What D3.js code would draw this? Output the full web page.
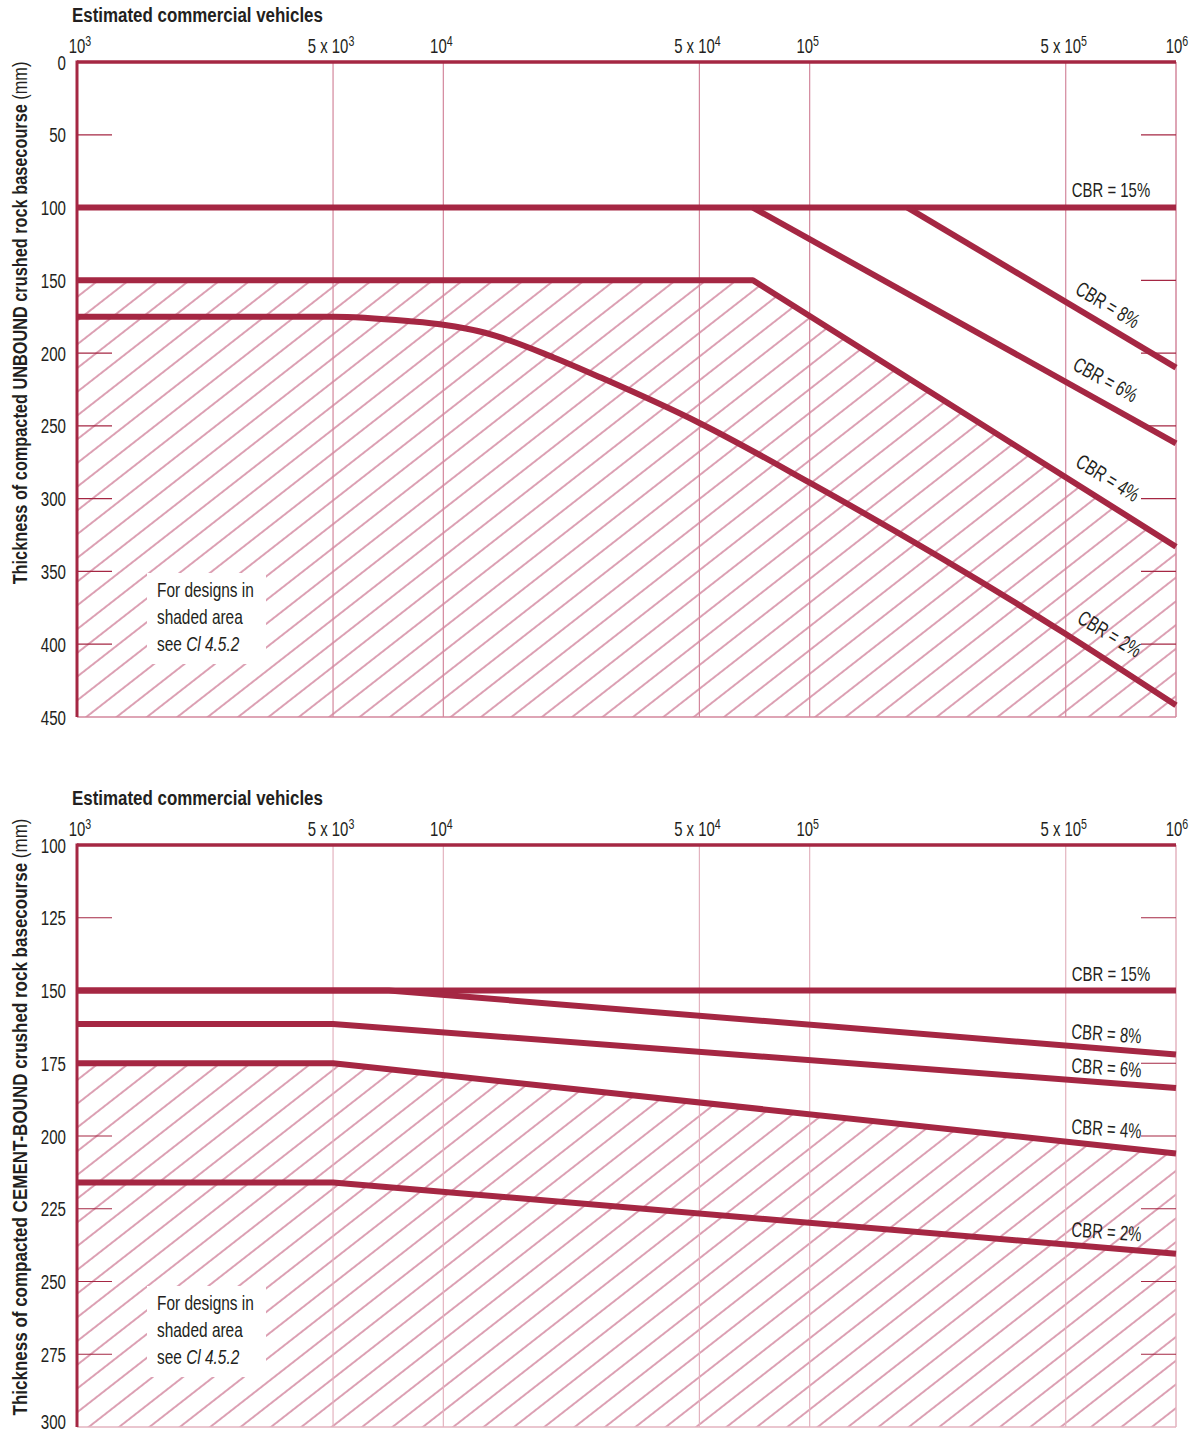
<!DOCTYPE html>
<html>
<head>
<meta charset="utf-8">
<script src="https://cdn.jsdelivr.net/npm/d3@7"></script>
<style>
  html, body { margin: 0; padding: 0; background: #fff; }
  svg text { font-family: "Liberation Sans", Arial, "Roboto", sans-serif; fill: #231f20; }
</style>
</head>
<body>
<svg id="chart" width="1200" height="1434"></svg>
<script>
// ---------- data ----------
const xTicks = [1e3, 5e3, 1e4, 5e4, 1e5, 5e5, 1e6];
const xTickLabels = [["10","3"],["5 x 10","3"],["10","4"],["5 x 10","4"],["10","5"],["5 x 10","5"],["10","6"]];
const xTitle = "Estimated commercial vehicles";

const unboundYTicks = [0, 50, 100, 150, 200, 250, 300, 350, 400, 450];
const unboundCBR15 = [[1e3, 100], [1e6, 100]];
const unboundCBR8  = [[1.85e5, 100], [1e6, 210]];
const unboundCBR6  = [[7e4, 100], [1e6, 262]];
const unboundCBR4  = [[1e3, 150], [7e4, 150], [1e6, 333]];
const unboundCBR2  = [[1e3, 175], [5e3, 175], [8e3, 178], [1e4, 180.5], [1.3e4, 186], [2e4, 203], [2.7e4, 217], [5e4, 248], [1e5, 289], [5e5, 393], [1e6, 442]];

const cementYTicks = [100, 125, 150, 175, 200, 225, 250, 275, 300];
const cementCBR15 = [[1e3, 150], [1e6, 150]];
const cementCBR8  = [[1e3, 150], [7.1e3, 150], [1e6, 172]];
const cementCBR6  = [[1e3, 161.5], [5e3, 161.5], [1e6, 183.5]];
const cementCBR4  = [[1e3, 175], [5e3, 175], [1e6, 206]];
const cementCBR2  = [[1e3, 216], [5e3, 216], [1e6, 240.5]];

const noteLines = ["For designs in", "shaded area", "see "];
const noteRef = "Cl 4.5.2";

// ---------- style ----------
const LINE = "#a52743";
const GRID = "#d3879c";
const HATCH = "#c05476";
const SX = 0.71;      // condensed look
const FS = 21;

const svg = d3.select("#chart");
const defs = svg.append("defs");
const pat = defs.append("pattern")
  .attr("id", "hatch").attr("patternUnits", "userSpaceOnUse")
  .attr("width", 18.7).attr("height", 20)
  .attr("patternTransform", "rotate(52)");
pat.append("line").attr("x1", 1).attr("y1", 0).attr("x2", 1).attr("y2", 20)
  .attr("stroke", HATCH).attr("stroke-width", 1.1);

const x = d3.scaleLog().domain([1e3, 1e6]).range([77, 1176]);

function label(parent, px, py, rot, sx) {
  return parent.append("text")
    .attr("transform", `translate(${px},${py}) rotate(${rot || 0}) scale(${sx || SX},1)`)
    .attr("font-size", FS);
}
function fitWidth(sel, px, py, rot, target) {
  const w = sel.node().getComputedTextLength();
  sel.attr("transform", `translate(${px},${py}) rotate(${rot}) scale(${target / w},1)`);
}

function panel(cfg) {
  const y = d3.scaleLinear().domain(cfg.domain).range([cfg.top, cfg.bottom]);
  const g = svg.append("g");
  const clipId = "clip" + cfg.id;
  defs.append("clipPath").attr("id", clipId).append("rect")
    .attr("x", x.range()[0]).attr("y", cfg.top)
    .attr("width", x.range()[1] - x.range()[0]).attr("height", cfg.bottom - cfg.top);

  const line = d3.line().x(d => x(d[0])).y(d => y(d[1]));
  const curve = d3.line().x(d => x(d[0])).y(d => y(d[1])).curve(d3.curveMonotoneX);

  // hatch area below the CBR 4% line
  const b = cfg.series[3].data;
  const areaPts = b.map(d => [x(d[0]), y(d[1])]);
  areaPts.push([x(1e6), cfg.bottom], [x(1e3), cfg.bottom]);
  g.append("path").attr("clip-path", `url(#${clipId})`)
    .attr("d", "M" + areaPts.map(p => p.join(",")).join("L") + "Z")
    .attr("fill", "url(#hatch)");

  // white box behind note
  g.append("rect").attr("x", 147).attr("y", cfg.noteY - 24)
    .attr("width", 119).attr("height", 91).attr("fill", "#fff");

  // gridlines
  g.selectAll(".grid").data(xTicks.slice(1, -1)).enter().append("line")
    .attr("x1", d => x(d)).attr("x2", d => x(d))
    .attr("y1", cfg.top).attr("y2", cfg.bottom)
    .attr("stroke", cfg.gridColor).attr("stroke-width", 1.2);

  // right & bottom borders
  g.append("line").attr("x1", x(1e6)).attr("x2", x(1e6)).attr("y1", cfg.top).attr("y2", cfg.bottom)
    .attr("stroke", cfg.gridColor).attr("stroke-width", 1.5);
  g.append("line").attr("x1", x(1e3)).attr("x2", x(1e6)).attr("y1", cfg.bottom).attr("y2", cfg.bottom)
    .attr("stroke", cfg.gridColor).attr("stroke-width", 1.5);

  // y tick marks inside, left and right
  const inner = cfg.yTicks.slice(1, -1);
  g.selectAll(".tl").data(inner).enter().append("line")
    .attr("x1", 77).attr("x2", 112).attr("y1", d => y(d)).attr("y2", d => y(d))
    .attr("stroke", LINE).attr("stroke-width", 1.2);
  g.selectAll(".tr").data(inner).enter().append("line")
    .attr("x1", 1141).attr("x2", 1176).attr("y1", d => y(d)).attr("y2", d => y(d))
    .attr("stroke", LINE).attr("stroke-width", 1.2);

  // y tick labels
  cfg.yTicks.forEach(d => {
    const yy = Math.min(y(d) + 7.5, 1429);
    label(g, 66, yy, 0, 0.72).attr("text-anchor", "end").attr("font-size", 21).text(d);
  });

  // top and left axis lines
  g.append("line").attr("x1", 77).attr("x2", 1176).attr("y1", cfg.top).attr("y2", cfg.top)
    .attr("stroke", LINE).attr("stroke-width", 3.5);
  g.append("line").attr("x1", 77).attr("x2", 77).attr("y1", cfg.top - 1.5).attr("y2", cfg.bottom)
    .attr("stroke", LINE).attr("stroke-width", 3);

  // x tick labels
  xTicks.forEach((d, i) => {
    const t = label(g, x(d) + (i === 0 ? 3 : (i === xTicks.length - 1 ? 1 : -2)), cfg.top - 9, 0, SX)
      .attr("text-anchor", "middle");
    t.append("tspan").text(xTickLabels[i][0]);
    t.append("tspan").attr("dy", -7).attr("font-size", 15).text(xTickLabels[i][1]);
  });

  // x title
  const xt = label(g, 72, cfg.top - 40, 0, 1).attr("font-size", 20).attr("font-weight", "bold").text(xTitle);
  fitWidth(xt, 72, cfg.top - 40, 0, 251);

  // y title
  const yt = label(g, 27, cfg.titleY, -90, 1).attr("text-anchor", "middle").attr("font-size", 20.5);
  yt.append("tspan").attr("font-weight", "bold").text(cfg.yTitle);
  yt.append("tspan").text(" (mm)");
  fitWidth(yt, 27, cfg.titleY, -90, cfg.titleLen);

  // note text
  const nt = label(g, 157, cfg.noteY, 0, 1).attr("font-size", 20.5);
  noteLines.forEach((t, i) => {
    nt.append("tspan").attr("x", 0).attr("dy", i === 0 ? 0 : 27).text(t);
    if (i === noteLines.length - 1) nt.append("tspan").attr("font-style", "italic").text(noteRef);
  });
  const nw = nt.select("tspan").node().getComputedTextLength();
  nt.attr("transform", `translate(157,${cfg.noteY}) scale(${97 / nw},1)`);

  // series lines
  cfg.series.forEach(s => {
    g.append("path").attr("d", (s.smooth ? curve : line)(s.data))
      .attr("fill", "none").attr("stroke", LINE).attr("stroke-width", 6)
      .attr("stroke-linejoin", "round");
  });

  // series labels
  cfg.series.forEach(s => {
    label(g, s.lx, s.ly, s.rot, SX).attr("text-anchor", "middle").text(s.name);
  });
}

panel({
  id: 1, top: 62, bottom: 717, domain: [0, 450], yTicks: unboundYTicks,
  gridColor: GRID, noteY: 597, titleY: 323, titleLen: 523,
  yTitle: "Thickness of compacted UNBOUND crushed rock basecourse",
  series: [
    { name: "CBR = 15%", data: unboundCBR15, lx: 1111, ly: 197, rot: 0 },
    { name: "CBR = 8%",  data: unboundCBR8,  lx: 1104, ly: 311, rot: 31 },
    { name: "CBR = 6%",  data: unboundCBR6,  lx: 1102, ly: 386, rot: 29 },
    { name: "CBR = 4%",  data: unboundCBR4,  lx: 1104, ly: 484, rot: 32 },
    { name: "CBR = 2%",  data: unboundCBR2,  lx: 1106, ly: 640, rot: 31, smooth: true }
  ]
});

panel({
  id: 2, top: 845, bottom: 1427, domain: [100, 300], yTicks: cementYTicks,
  gridColor: "#e3b3bf", noteY: 1310, titleY: 1117, titleLen: 597,
  yTitle: "Thickness of compacted CEMENT-BOUND crushed rock basecourse",
  series: [
    { name: "CBR = 15%", data: cementCBR15, lx: 1111, ly: 981, rot: 0 },
    { name: "CBR = 8%",  data: cementCBR8,  lx: 1106, ly: 1041, rot: 4 },
    { name: "CBR = 6%",  data: cementCBR6,  lx: 1106, ly: 1075, rot: 4 },
    { name: "CBR = 4%",  data: cementCBR4,  lx: 1106, ly: 1136, rot: 4 },
    { name: "CBR = 2%",  data: cementCBR2,  lx: 1106, ly: 1239, rot: 4 }
  ]
});
</script>
</body>
</html>
